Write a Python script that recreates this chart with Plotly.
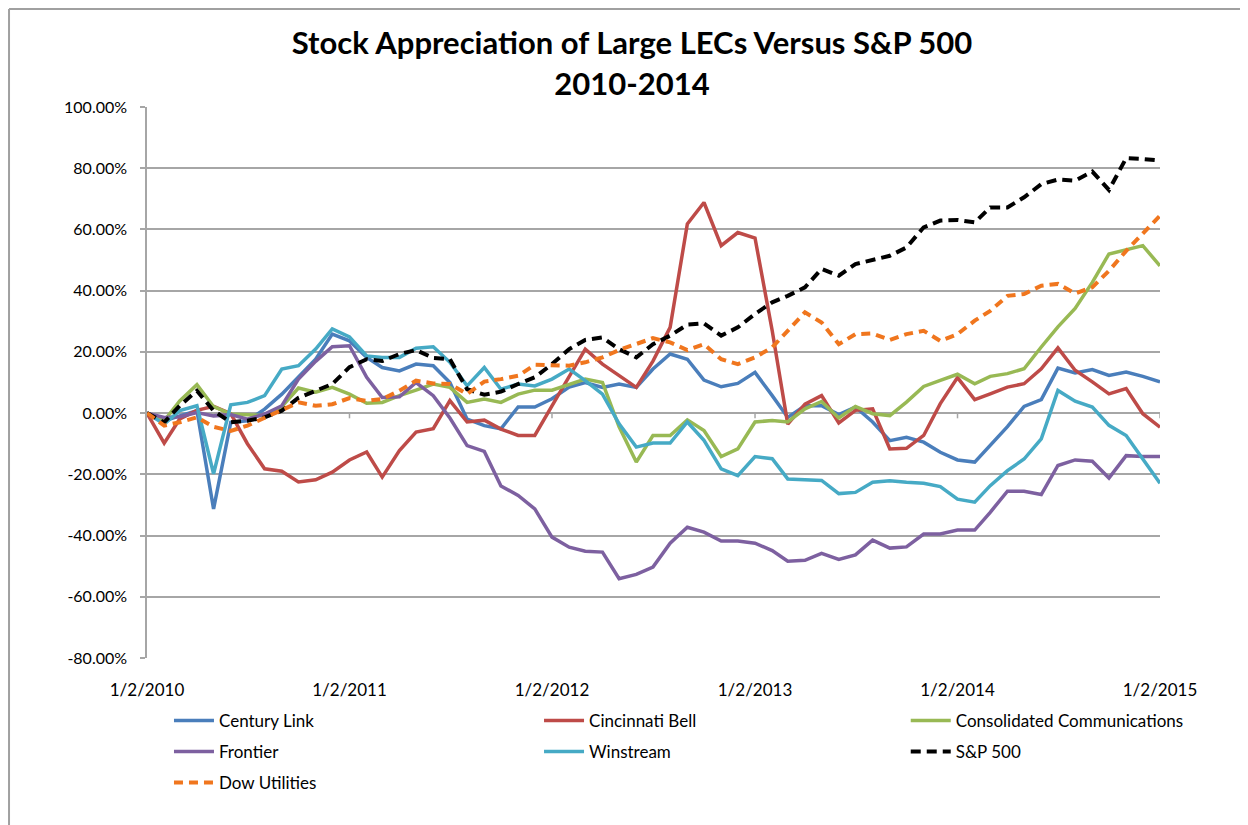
import pandas as pd
import plotly.graph_objects as go

# ---------------- data ----------------
dates = pd.date_range("2010-01-01", periods=61, freq="MS")

century_link = [0, -2.5, -0.9, 0.8, -31.3, -3.0, -2.5, 1.3, 6.2, 11.7, 17.6, 25.8, 23.6, 18.2, 14.9, 13.8,
                16.0, 15.5, 10.0, -2.0, -4.1, -5.1, 2.0, 2.0, 4.7, 8.5, 10.0, 8.4, 9.5, 8.4, 14.4, 19.3,
                17.6, 10.8, 8.6, 9.7, 13.3, 5.7, -1.4, 2.4, 2.4, -0.5, 2.0, -2.9, -9.0, -7.9, -9.5, -12.8,
                -15.3, -16.0, -10.6, -4.4, 2.2, 4.4, 14.7, 13.1, 14.2, 12.3, 13.4, 12.0, 10.2]
cincinnati_bell = [0, -9.8, -1.9, 0.9, 2.2, -0.2, -10.0, -18.2, -19.0, -22.5, -21.8, -19.3, -15.3, -12.7,
                   -20.9, -12.2, -6.2, -5.1, 4.1, -2.9, -2.3, -5.2, -7.3, -7.3, 2.4, 11.7, 20.9, 16.0, 12.2,
                   8.4, 17.0, 28.0, 61.8, 68.8, 54.7, 59.0, 57.2, 26.9, -3.6, 2.9, 5.7, -3.2, 0.9, 1.4,
                   -11.7, -11.5, -7.3, 3.1, 11.6, 4.4, 6.3, 8.5, 9.6, 14.5, 21.3, 14.0, 10.2, 6.3, 8.0,
                   -0.2, -4.6]
consolidated = [0, -2.5, 4.0, 9.3, 2.1, -0.3, -0.5, -0.9, 2.1, 8.2, 6.8, 8.4, 6.2, 3.2, 3.5, 5.7, 7.5,
                9.5, 8.4, 3.5, 4.6, 3.5, 6.2, 7.5, 7.5, 9.5, 11.1, 10.0, -4.5, -16.0, -7.3, -7.3, -2.2,
                -5.7, -14.2, -11.7, -2.9, -2.4, -2.9, 1.4, 3.8, -1.6, 2.2, -0.2, -0.8, 3.6, 8.7, 10.7,
                12.7, 9.6, 12.0, 12.9, 14.5, 21.6, 28.2, 34.2, 42.7, 52.0, 53.3, 54.7, 48.1]
frontier = [0, -1.4, -1.2, 0.2, -0.9, -0.5, -2.0, -0.3, 2.4, 11.1, 16.9, 21.7, 22.0, 11.7, 5.1, 5.3,
            10.0, 5.7, -1.6, -10.6, -12.5, -23.8, -26.9, -31.3, -40.5, -43.8, -45.1, -45.4, -54.1,
            -52.7, -50.3, -42.5, -37.3, -38.9, -41.8, -41.8, -42.5, -44.9, -48.4, -48.1, -45.8, -47.8,
            -46.3, -41.5, -44.1, -43.7, -39.5, -39.5, -38.2, -38.2, -32.4, -25.5, -25.5, -26.6, -17.1,
            -15.3, -15.7, -21.2, -13.9, -14.2, -14.2]
winstream = [0, -3.6, 0.8, 2.4, -19.8, 2.7, 3.5, 5.7, 14.4, 15.5, 20.9, 27.5, 24.9, 18.7, 18.2, 18.2,
             21.2, 21.7, 16.6, 8.9, 14.9, 7.8, 9.5, 8.9, 11.1, 14.4, 10.6, 6.2, -3.5, -11.1, -9.8, -9.8,
             -2.9, -8.9, -18.2, -20.4, -14.2, -14.9, -21.5, -21.8, -22.0, -26.3, -25.9, -22.6, -22.1,
             -22.6, -22.9, -24.0, -28.1, -29.1, -23.7, -18.8, -15.0, -8.4, 7.4, 3.9, 2.0, -4.0, -7.3,
             -15.0, -22.9]
sp500 = [0, -3.0, 2.4, 7.3, 0.8, -3.0, -2.5, -1.4, 0.8, 5.0, 7.3, 9.5, 15.0, 17.6, 17.0, 19.3, 20.6,
         18.0, 17.6, 7.8, 6.0, 7.0, 9.5, 11.7, 16.0, 20.9, 23.9, 24.7, 20.9, 18.2, 22.5, 25.3, 28.9,
         29.3, 25.3, 28.0, 32.4, 36.2, 38.3, 41.1, 47.1, 44.9, 48.7, 50.0, 51.4, 54.1, 60.7, 62.9, 63.1,
         62.3, 67.2, 67.2, 70.5, 74.8, 76.3, 75.9, 78.9, 72.9, 83.3, 83.0, 82.5]
dow_utilities = [0, -4.1, -3.0, -1.4, -4.5, -5.8, -4.1, -1.4, 1.0, 3.5, 2.4, 2.9, 4.9, 4.0, 4.6, 7.3,
                 10.6, 9.7, 9.5, 6.2, 10.3, 11.1, 12.2, 15.8, 15.8, 15.5, 16.6, 18.2, 20.6, 22.5, 24.5,
                 23.1, 20.6, 22.5, 17.6, 16.0, 18.2, 21.5, 26.9, 32.9, 29.6, 22.5, 25.8, 26.0, 23.9, 25.8,
                 26.9, 23.6, 25.8, 30.2, 33.4, 38.3, 38.9, 41.6, 42.2, 39.1, 41.1, 46.5, 53.0, 58.5, 64.5]

series_names = ["Century Link", "Cincinnati Bell", "Consolidated Communications",
                "Frontier", "Winstream", "S&P 500", "Dow Utilities"]
series_values = [century_link, cincinnati_bell, consolidated, frontier, winstream, sp500, dow_utilities]
series_colors = ["#4A7EBB", "#BE4B48", "#98B954", "#7D60A0", "#46AAC5", "#000000", "#F0761E"]
series_dash = ["solid", "solid", "solid", "solid", "solid", "10px,6px", "9px,6px"]

x_tickvals = pd.to_datetime(["2010-01-01", "2011-01-01", "2012-01-01", "2013-01-01",
                             "2014-01-01", "2015-01-01"])
x_ticktext = ["1/2/2010", "1/2/2011", "1/2/2012", "1/2/2013", "1/2/2014", "1/2/2015"]
y_tickvals = [100, 80, 60, 40, 20, 0, -20, -40, -60, -80]

FONT = "Lato"
GRID = "#A6A6A6"

# legend grid: 3 columns x 3 rows (paper coordinates)
legend_cols = [0.0217, 0.387, 0.749]
legend_rows = [-0.1143, -0.1706, -0.2269]

fig = go.Figure()
legend_layouts = {}
for k, (name, vals, col, dash) in enumerate(zip(series_names, series_values, series_colors, series_dash)):
    lid = "legend" if k == 0 else f"legend{k + 1}"
    fig.add_trace(go.Scatter(
        x=dates, y=vals, name=name, mode="lines", legend=lid,
        line=dict(color=col, width=4 if dash != "solid" else 3.5, dash=dash),
    ))
    legend_layouts[lid] = dict(
        x=legend_cols[k % 3], xanchor="left", y=legend_rows[k // 3], yanchor="middle",
        orientation="h", itemwidth=40, bgcolor="rgba(0,0,0,0)",
        font=dict(family=FONT, size=17, color="#000000"),
    )

# small tick marks hanging below the 0% line at each year
for tv in x_tickvals[1:]:
    fig.add_shape(type="line", xref="x", yref="y", x0=tv, x1=tv, y0=0, y1=-1.7,
                  line=dict(color=GRID, width=1.5))

# chart-area border (left and top edges visible)
fig.add_shape(type="line", xref="paper", yref="paper", x0=-0.1362, x1=-0.1362, y0=-0.35, y1=1.178,
              line=dict(color="#A0A0A0", width=2))
fig.add_shape(type="line", xref="paper", yref="paper", x0=-0.1362, x1=1.2, y0=1.178, y1=1.178,
              line=dict(color="#A0A0A0", width=2))

fig.update_layout(
    width=1248, height=825,
    margin=dict(l=139, r=96, t=99, b=175),
    paper_bgcolor="white", plot_bgcolor="white",
    font=dict(family=FONT, size=15, color="#000000"),
    title=dict(text="<b>Stock Appreciation of Large LECs Versus S&P 500<br>2010-2014</b>",
               x=0.5, xanchor="center", y=0.944, yanchor="middle",
               font=dict(family=FONT, size=31, color="#000000")),
    showlegend=True,
    xaxis=dict(type="date", range=[dates[0], dates[-1]], tickvals=x_tickvals, ticktext=x_ticktext,
               showgrid=False, zeroline=False, showline=False, ticks="",
               ticklabelstandoff=20,
               tickfont=dict(family=FONT, size=17, color="#000000")),
    yaxis=dict(range=[-80, 100], tickvals=y_tickvals,
               ticktext=[f"{v:.2f}%" for v in y_tickvals],
               showgrid=True, gridcolor=GRID, gridwidth=1.5, zeroline=False,
               showline=True, linecolor=GRID, linewidth=1.5,
               ticks="outside", ticklen=5, tickcolor=GRID, tickwidth=1.5,
               ticklabelstandoff=10,
               tickfont=dict(family=FONT, size=16, color="#000000")),
    **legend_layouts,
)

fig.write_html("out.html")
